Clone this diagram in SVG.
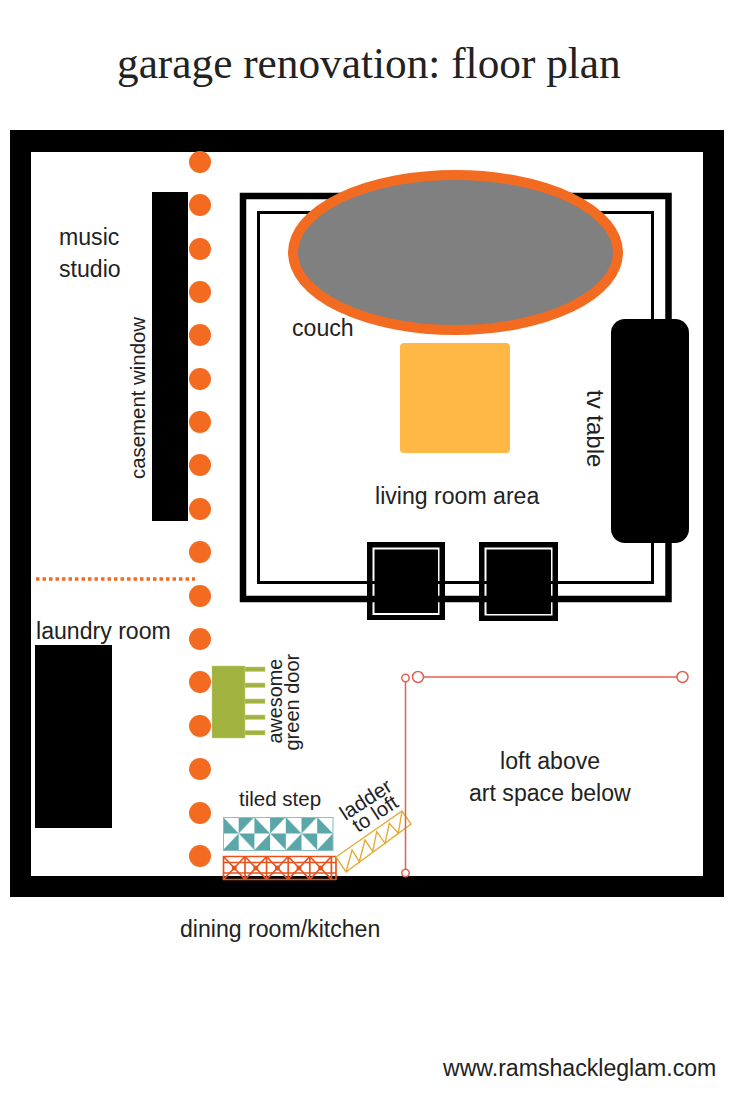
<svg xmlns="http://www.w3.org/2000/svg" width="735" height="1102" viewBox="0 0 735 1102">
<style>
text{font-family:"Liberation Sans",Arial,sans-serif;font-size:23.1px;fill:#222}
.t{font-family:"Liberation Serif","Times New Roman",serif;font-size:43.300px}
.k{fill:#000}
.d{fill:#f26b21}
.n{fill:#e8521c}
.r{fill:none;stroke:#000}
.red{fill:#fff;stroke:#e2604f;stroke-width:1.5}
.p{fill:#a2b23f;stroke:#c3cf7c;stroke-width:.5}
.la{fill:none;stroke:#e3ac34;stroke-width:1.4}
.tr{fill:none;stroke:#e8521c;stroke-width:1.7}
</style>
<defs>
<pattern id="pin" patternUnits="userSpaceOnUse" x="223" y="817" width="31.4" height="33">
<rect width="31.4" height="33" fill="#fff"/>
<path d="M0 0V16.5H15.7ZM31.4 0H15.7V16.5ZM31.4 33V16.5H15.7ZM0 33H15.7V16.5Z" fill="#5aa6a8"/>
</pattern>
</defs>
<rect width="735" height="1102" fill="#fff"/>
<text class="t" x="117" y="78">garage renovation: floor plan</text>
<g id="walls"><path class="k" fill-rule="evenodd" d="M10 130H724V897H10ZM31 152V876H703V152Z"/></g>
<g id="ottoman-1"><rect class="k" x="367" y="542" width="78" height="78"/><rect x="373.500" y="548.500" width="65" height="65.500" fill="none" stroke="#fff" stroke-width="2"/></g>
<g id="ottoman-2"><rect class="k" x="479" y="542" width="79" height="79"/><rect x="485.500" y="548.500" width="66" height="66" fill="none" stroke="#fff" stroke-width="2"/></g>
<g id="rug">
<rect class="r" x="243" y="196" width="425.500" height="403" stroke-width="6.500"/>
<rect class="r" x="258.500" y="212.500" width="394" height="370" stroke-width="3"/>
</g>
<g id="ottoman-centres"><rect class="k" x="375" y="550" width="63" height="63"/><rect class="k" x="487" y="550" width="64" height="64"/></g>
<g id="couch"><ellipse cx="455.500" cy="252.500" rx="162.500" ry="77.500" fill="#808080" stroke="#f26b21" stroke-width="10"/></g>
<text x="292" y="336">couch</text>
<g id="coffee-table"><rect x="400" y="343" width="110" height="110" rx="4" fill="#ffb845"/></g>
<g id="tv-table"><rect class="k" x="611" y="319" width="78" height="224" rx="14"/></g>
<text transform="translate(587 390) rotate(90)" style="font-size:24px">tv table</text>
<text x="375" y="504">living room area</text>
<text x="59" y="245">music</text>
<text x="59" y="277">studio</text>
<g id="casement-window"><rect class="k" x="152" y="192" width="36" height="329"/></g>
<text transform="translate(145 479) rotate(-90)" style="font-size:20.400px">casement window</text>
<g id="dots">
<circle class="d" cx="200" cy="162" r="11"/><circle class="d" cx="200" cy="205" r="11"/><circle class="d" cx="200" cy="249" r="11"/><circle class="d" cx="200" cy="292" r="11"/><circle class="d" cx="200" cy="335" r="11"/><circle class="d" cx="200" cy="379" r="11"/><circle class="d" cx="200" cy="422" r="11"/><circle class="d" cx="200" cy="465" r="11"/><circle class="d" cx="200" cy="509" r="11"/><circle class="d" cx="200" cy="552" r="11"/><circle class="d" cx="200" cy="596" r="11"/><circle class="d" cx="200" cy="639" r="11"/><circle class="d" cx="200" cy="682" r="11"/><circle class="d" cx="200" cy="726" r="11"/><circle class="d" cx="200" cy="769" r="11"/><circle class="d" cx="200" cy="813" r="11"/><circle class="d" cx="200" cy="856" r="11"/>
</g>
<g id="divider"><line x1="36" y1="579" x2="195" y2="579" stroke="#f26b21" stroke-width="3.500" stroke-dasharray="3.500 3"/></g>
<text x="36" y="639">laundry room</text>
<g id="laundry"><rect class="k" x="35" y="645" width="77" height="183"/></g>
<g id="green-door">
<rect class="p" x="212" y="666" width="33" height="72"/>
<rect class="p" x="245" y="667" width="20" height="4.500"/><rect class="p" x="245" y="683" width="20" height="4.500"/><rect class="p" x="245" y="699" width="20" height="4.500"/><rect class="p" x="245" y="715" width="20" height="4.500"/><rect class="p" x="245" y="730.500" width="20" height="4.500"/>
</g>
<text transform="translate(281.500 743.500) rotate(-90)" style="font-size:19.800px">awesome</text>
<text transform="translate(299 750.500) rotate(-90)" style="font-size:20px">green door</text>
<text x="239" y="806" style="font-size:20.500px">tiled step</text>
<g id="tiled-step"><rect x="223.500" y="817.500" width="109.500" height="33" fill="url(#pin)" stroke="#86c0c2" stroke-width="1"/></g>
<g id="step-truss">
<path class="tr" d="M223 856.500H336M223 862.500H336M223 873H336M223 879.500H336M223.500 856V880M245 856V880M266.600 856V880M288.200 856V880M309.800 856V880M331.400 856V880M336 856V880"/>
<path class="tr" d="M223.500 856.500L245 879.500M245 856.500L223.500 879.500M245 856.500L266.600 879.500M266.600 856.500L245 879.500M266.600 856.500L288.200 879.500M288.200 856.500L266.600 879.500M288.200 856.500L309.800 879.500M309.800 856.500L288.200 879.500M309.800 856.500L331.400 879.500M331.400 856.500L309.800 879.500"/>
<circle class="n" cx="234.200" cy="868" r="2.500"/><circle class="n" cx="255.800" cy="868" r="2.500"/><circle class="n" cx="277.400" cy="868" r="2.500"/><circle class="n" cx="299" cy="868" r="2.500"/><circle class="n" cx="320.600" cy="868" r="2.500"/>
</g>
<g id="ladder">
<path class="la" d="M336 857L402 811L411 824L346 872Z"/>
<path class="la" d="M346 872L352 850L359.300 861.700L365 840L372.700 851.300L376.700 831.700L385 843.300L389.300 823.300L398.300 833.300L402 811"/>
</g>
<text transform="translate(345.500 821) rotate(-33)" style="font-size:20.600px">ladder</text>
<text transform="translate(358 833) rotate(-33)" style="font-size:20.400px">to loft</text>
<g id="loft">
<path d="M423 677H677M405.500 682V869" fill="none" stroke="#e2604f" stroke-width="1.500"/>
<circle class="red" cx="418" cy="677" r="5.500"/><circle class="red" cx="682.500" cy="677" r="5.500"/><circle class="red" cx="405.500" cy="678" r="3.700"/><circle class="red" cx="405.500" cy="873" r="3.700"/>
</g>
<text x="500" y="769">loft above</text>
<text x="469" y="801">art space below</text>
<text x="180" y="937">dining room/kitchen</text>
<text x="443" y="1076">www.ramshackleglam.com</text>
</svg>
